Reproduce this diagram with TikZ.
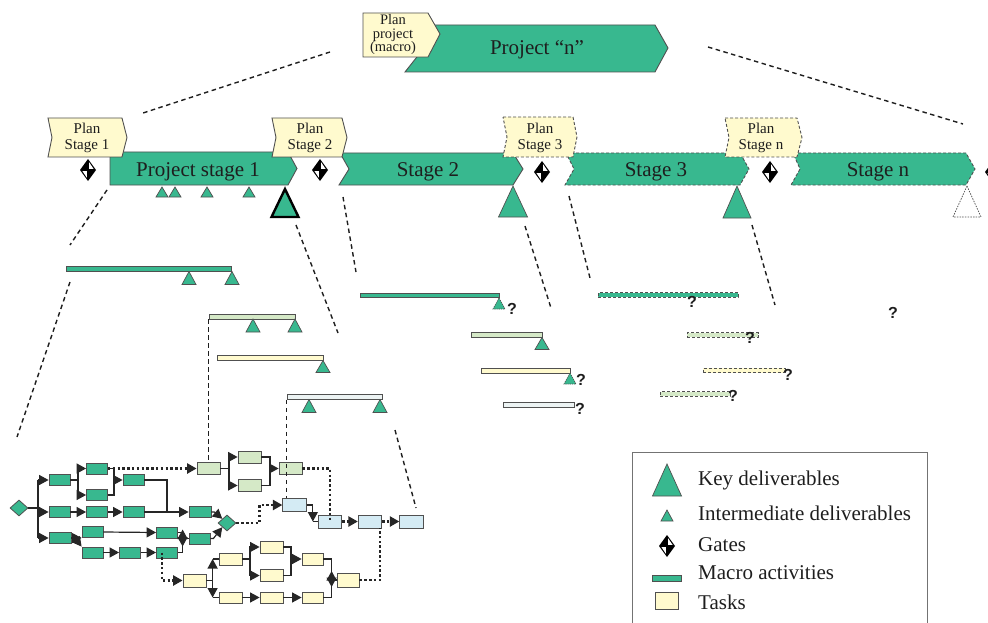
\documentclass[tikz,border=0pt]{standalone}
\usepackage{fontspec}
\setmainfont{Liberation Serif}
\setsansfont{Liberation Sans}
\usetikzlibrary{shapes.geometric,arrows.meta,calc}

\definecolor{pgreen}{RGB}{56,184,143}
\definecolor{pyellow}{RGB}{255,250,206}
\definecolor{plgreen}{RGB}{213,233,199}
\definecolor{plblue}{RGB}{212,235,244}
\definecolor{ppale}{RGB}{236,243,243}
\definecolor{pedge}{RGB}{80,80,80}
\definecolor{ptext}{RGB}{30,30,30}

% deliverable triangle: apex x, apex y, half base width, height
\newcommand{\deliv}[5][]{\filldraw[delivstyle,#1] (#2,#3) -- ++(#4,#5) -- ++({-2*(#4)},0) -- cycle;}

\tikzset{
  gatepic/.pic={
    \fill[black] (0,-11) -- (8,0) -- (0,11) -- (-8,0) -- cycle;
    \fill[white] (1.2,-7.6) -- (5.6,-1.1) -- (1.2,-1.1) -- cycle;
    \fill[white] (-1.2,7.6) -- (-5.6,1.1) -- (-1.2,1.1) -- cycle;
  },
}

\begin{document}
\begin{tikzpicture}[x=1pt,y=-1pt,
  stageshape/.style={fill=pgreen, draw=pedge, line width=0.9pt},
  planshape/.style={fill=pyellow, draw=pedge, line width=0.9pt},
  futuredash/.style={dash pattern=on 3pt off 2pt},
  stagetxt/.style={font=\fontsize{21}{24}\selectfont, text=ptext, inner sep=0, anchor=base},
  plantxt/.style={font=\fontsize{15}{16}\selectfont, text=ptext, align=center, inner sep=0},
  legtxt/.style={font=\fontsize{21}{24}\selectfont, text=ptext, inner sep=0, anchor=base west},
  qmark/.style={font=\sffamily\bfseries\fontsize{16}{16}\selectfont, text=ptext, inner sep=0},
  zoomline/.style={draw=ptext, line width=1.4pt, dash pattern=on 4.5pt off 3.5pt},
  delivstyle/.style={fill=pgreen, draw=pedge, line width=0.7pt},
  macrobar/.style={draw=pedge, line width=0.8pt, minimum height=5pt, inner sep=0},
  task/.style={draw=pedge, line width=0.8pt, minimum width=21pt, minimum height=11pt, inner sep=0},
  gtask/.style={task, fill=pgreen},
  lgtask/.style={task, fill=plgreen, minimum width=23pt, minimum height=12pt},
  lbtask/.style={task, fill=plblue, minimum width=23.5pt, minimum height=13pt},
  ytask/.style={task, fill=pyellow, minimum width=23pt, minimum height=12pt},
  gdia/.style={diamond, fill=pgreen, draw=pedge, line width=0.8pt, minimum width=18pt, minimum height=16pt, inner sep=0},
  flow/.style={draw=black!85, line width=1.2pt},
  arr/.style={flow, -{Triangle[length=9.5pt,width=10pt]}},
  dotl/.style={draw=black!85, line width=2.5pt, dash pattern=on 2.5pt off 2.3pt},
  darr/.style={dotl, -{Triangle[length=9.5pt,width=10pt]}},
]
\useasboundingbox (0,0) rectangle (988,623);
\clip (0,0) rectangle (988,623);

% ---------- project level ----------
\draw[stageshape] (405,25) -- (655,25) -- (668,48) -- (655,72) -- (405,72) -- (424,48) -- cycle;
\node[stagetxt] (projn) at (537,55) {Project “n”};
\draw[planshape] (363,13) -- (428,13) -- (440,34) -- (428,57) -- (363,57) -- cycle;
\node[plantxt, font=\fontsize{14.5}{13.5}\selectfont] (planproj) at (393,35) {Plan\\project\\(macro)};

% ---------- stages ----------
\draw[stageshape] (110,152) -- (288,152) -- (297,168.5) -- (288,185) -- (110,185) -- cycle;
\draw[stageshape] (340,153) -- (513,153) -- (523,169) -- (513,185) -- (339,185) -- (349,169) -- cycle;
\draw[stageshape, futuredash] (566,153) -- (740,153) -- (749,169) -- (740,185) -- (565,185) -- (574,169) -- cycle;
\draw[stageshape, futuredash] (793,153) -- (966,153) -- (975,169) -- (966,185) -- (791,185) -- (800,169) -- cycle;
\node[stagetxt] (st1) at (198,176) {Project stage 1};
\node[stagetxt] (st2) at (428,176) {Stage 2};
\node[stagetxt] (st3) at (656,176) {Stage 3};
\node[stagetxt] (stn) at (878,176) {Stage n};

% planning labels
\draw[planshape] (48,118) -- (122,118) -- (127,137.5) -- (122,157) -- (48,157) -- (52,137.5) -- cycle;
\draw[planshape] (272,118) -- (342,118) -- (347,137.5) -- (342,157) -- (272,157) -- (276,137.5) -- cycle;
\draw[planshape, futuredash] (503,117) -- (573,117) -- (577,137) -- (573,157) -- (503,157) -- (507,137) -- cycle;
\draw[planshape, futuredash] (725,118) -- (797,118) -- (802,137.5) -- (797,157) -- (725,157) -- (729,137.5) -- cycle;
\node[plantxt] (pl1) at (87,137.5) {Plan\\Stage 1};
\node[plantxt] (pl2) at (310,137.5) {Plan\\Stage 2};
\node[plantxt] (pl3) at (540,137.5) {Plan\\Stage 3};
\node[plantxt] (pln) at (761,137.5) {Plan\\Stage n};

% gates
\pic at (88,170) {gatepic};
\pic at (320,170) {gatepic};
\pic at (542,172) {gatepic};
\pic at (770,172) {gatepic};
\pic at (993,172) {gatepic};

% key deliverables of the stages
\deliv[draw=black, line width=2.4pt]{285}{189}{13.5}{28}
\deliv{513}{186}{14.5}{31}
\deliv{737}{186}{14}{32}
\deliv[fill=white, draw=pedge, dash pattern=on 1.5pt off 1.2pt]{967}{186}{14}{31}
% intermediate deliverables of stage 1
\deliv{162}{187}{6}{10}
\deliv{175}{187}{6}{10}
\deliv{207}{187}{6}{10}
\deliv{249}{187}{6}{10}

% ---------- zoom guide lines ----------
\coordinate (zt1) at (330,52);  \coordinate (zt2) at (140,114);
\coordinate (zt3) at (708,47);  \coordinate (zt4) at (963,124);
\draw[zoomline] (zt1) -- (zt2);
\draw[zoomline] (zt3) -- (zt4);
\coordinate (za1) at (107,190); \coordinate (za2) at (70,245);
\coordinate (za3) at (70,282);  \coordinate (za4) at (17,437);
\coordinate (za5) at (296,225); \coordinate (za6) at (338,333);
\coordinate (za7) at (395,430); \coordinate (za8) at (416,508);
\draw[zoomline] (za1) -- (za2);
\draw[zoomline] (za3) -- (za4);
\draw[zoomline] (za5) -- (za6);
\draw[zoomline] (za7) -- (za8);
\coordinate (zb1) at (343,197); \coordinate (zb2) at (356,272);
\coordinate (zb3) at (525,226); \coordinate (zb4) at (551,308);
\draw[zoomline] (zb1) -- (zb2);
\draw[zoomline] (zb3) -- (zb4);
\coordinate (zc1) at (569,196); \coordinate (zc2) at (590,278);
\coordinate (zc3) at (752,225); \coordinate (zc4) at (775,305);
\draw[zoomline] (zc1) -- (zc2);
\draw[zoomline] (zc3) -- (zc4);

% ---------- macro activities ----------
\node[macrobar, fill=pgreen, minimum width=165pt] (b11) at (148.5,269) {};
\node[macrobar, fill=plgreen, minimum width=86pt] (b12) at (252,316.5) {};
\node[macrobar, fill=pyellow, minimum width=106pt] (b13) at (270,358) {};
\node[macrobar, fill=ppale, minimum width=95pt] (b14) at (334.5,397) {};
\deliv{189}{271.5}{7}{13}
\deliv{232}{271.5}{7}{13}
\deliv{253}{319}{7}{13}
\deliv{295}{319}{7}{13}
\deliv{323}{360.5}{7}{12}
\deliv{309}{399.5}{7}{13}
\deliv{380}{399.5}{7}{13}

\node[macrobar, fill=pgreen, minimum width=139pt, minimum height=4.5pt] (b21) at (429.5,295.5) {};
\node[macrobar, fill=plgreen, minimum width=71pt] (b22) at (506.5,335) {};
\node[macrobar, fill=pyellow, minimum width=89pt] (b23) at (525.5,370.5) {};
\node[macrobar, fill=ppale, minimum width=71pt] (b24) at (538.5,405) {};
\deliv[dash pattern=on 1.2pt off 1pt]{499}{298}{6}{11}
\deliv{542}{337.5}{7}{12}
\deliv[dash pattern=on 1.2pt off 1pt]{570}{373}{6}{11}
\node[qmark] (q21) at (512,309) {?};
\node[qmark] (q23) at (581,380) {?};
\node[qmark] (q24) at (580,409) {?};

\node[macrobar, futuredash, fill=pgreen, minimum width=140pt, minimum height=4.5pt] (b31) at (668,295) {};
\node[macrobar, futuredash, fill=plgreen, minimum width=71pt, minimum height=4.5pt] (b32) at (722.5,335) {};
\node[macrobar, futuredash, fill=pyellow, minimum width=82pt, minimum height=4.5pt] (b33) at (744,370.5) {};
\node[macrobar, futuredash, fill=plgreen, minimum width=70pt, minimum height=4.5pt] (b34) at (695,394) {};
\node[qmark] (q31) at (692,302) {?};
\node[qmark] (q32) at (750,338) {?};
\node[qmark] (q33) at (788,375) {?};
\node[qmark] (q34) at (733,396) {?};
\node[qmark] (qn) at (893,313) {?};

% ---------- task network of stage 1 ----------
\node[gdia] (S) at (19,508) {};
\node[gtask] (A1) at (59.5,480) {};
\node[gtask] (A2) at (97,468.5) {};
\node[gtask] (A3) at (97,495) {};
\node[gtask] (A4) at (133.5,480) {};
\node[gtask] (B1) at (59.5,512) {};
\node[gtask] (B2) at (97,512) {};
\node[gtask] (B3) at (133.5,512) {};
\node[gtask, minimum width=22pt] (C1) at (200,512) {};
\node[gtask, minimum width=22pt] (R1) at (60,538) {};
\node[gtask] (R2) at (92.5,532) {};
\node[gtask] (R3) at (92.5,552.5) {};
\node[gtask] (R4) at (167,532.5) {};
\node[gtask] (R5) at (130,552.5) {};
\node[gtask] (R6) at (167,552.5) {};
\node[gtask] (R7) at (199.5,538.5) {};
\node[gdia] (M) at (227,523) {};

\node[lgtask] (LG1) at (208.5,468.5) {};
\node[lgtask] (LG2) at (249.5,457) {};
\node[lgtask] (LG3) at (249.5,485.5) {};
\node[lgtask] (LG4) at (290.5,468.5) {};

\node[lbtask] (LB1) at (294.5,505) {};
\node[lbtask] (LB2) at (330,521.5) {};
\node[lbtask] (LB3) at (370,521.5) {};
\node[lbtask] (LB4) at (411.5,521.5) {};

\node[ytask, minimum height=13pt] (Y1) at (194.5,580.5) {};
\node[ytask] (Y2) at (230.5,559) {};
\node[ytask, minimum height=11pt] (Y3) at (230.5,597.5) {};
\node[ytask] (Y4) at (271.5,547) {};
\node[ytask] (Y5) at (271.5,575.5) {};
\node[ytask, minimum width=21pt] (Y6) at (312.5,559) {};
\node[ytask, minimum height=11pt] (Y7) at (271.5,597.5) {};
\node[ytask, minimum width=21pt, minimum height=11pt] (Y8) at (312.5,597.5) {};
\node[ytask, minimum width=22pt, minimum height=14pt] (Y9) at (348,580) {};

% guide lines from the macro activities down to their tasks
\draw[zoomline] (b12.south west) -- (b12.south west |- LG1.north);
\draw[zoomline] (b14.south west) -- (b14.south west |- LB1.north);

% green network
\coordinate (sp) at (38,508);
\draw[flow] (S.east) -- (sp);
\draw[flow] (sp |- A1) -- (sp |- R1);
\draw[arr] (sp |- A1) -- (A1.west);
\draw[arr] (sp |- B1) -- (B1.west);
\draw[arr] (sp |- R1) -- (R1.west);
\coordinate (sa) at (78,480);
\draw[flow] (A1.east) -- (sa);
\draw[arr] (sa) |- (A2.west);
\draw[arr] (sa) |- (A3.west);
\coordinate (ma) at (114,480);
\draw[flow] (A2.east) -| (ma);
\draw[flow] (A3.east) -| (ma);
\draw[arr] (ma) -- (A4.west);
\draw[arr] (B1) -- (B2);
\draw[arr] (B2) -- (B3);
\coordinate (mb) at (167,512);
\draw[flow] (A4.east) -| (mb);
\draw[flow] (B3.east) -- (mb);
\draw[arr] (mb) -- (C1.west);
\coordinate (sr) at (75,538);
\draw[flow] (R1.east) -- (sr);
\draw[arr] (sr) -- (R2.south west);
\draw[arr] (sr) -- (R3.north west);
\draw[arr] (R2.east) -- (R4.west);
\draw[arr] (R3) -- (R5);
\draw[arr] (R5) -- (R6);
\draw[arr] (R4.east) -| ($(R7.west)+(-6,8)$);
\draw[arr] (R6.east) -| ($(R7.west)+(-6,-9)$);
\draw[flow] ($(R7.west)+(-6,0)$) -- (R7.west);
\draw[arr] (C1.east) -- ++(3,0) -- (M.north west);
\draw[arr] (R7.east) -- ++(3,0) -- (M.south west);

% light green network
\draw[darr] (A2.east) -- (LG1.west);
\coordinate (sg) at (229,468.5);
\draw[flow] (LG1.east) -- (sg);
\draw[arr] (sg) |- (LG2.west);
\draw[arr] (sg) |- (LG3.west);
\coordinate (mg) at (270,468.5);
\draw[flow] (LG2.east) -| (mg);
\draw[flow] (LG3.east) -| (mg);
\draw[arr] (mg) -- (LG4.west);

% light blue network
\draw[darr] (M.east) -- ++(23,0) |- (LB1.west);
\draw[arr] (LB1.east) -| ($(LB2.west)+(-5,0)$);
\draw[flow] ($(LB2.west)+(-5,0)$) -- (LB2.west);
\draw[dotl] (LG4.east) -| (LB2.center);
\draw[darr] (LB2.east) -- (LB3.west);
\draw[darr] (LB3.east) -- (LB4.west);

% yellow network
\draw[darr] ($(R6.center)+(-5,0)$) |- (Y1.west);
\draw[arr] (Y1.east) -| ($(Y2.west)+(-6,0)$);
\draw[flow] ($(Y2.west)+(-6,0)$) -- (Y2.west);
\draw[arr] (Y1.east) -| ($(Y3.west)+(-6,0)$);
\draw[flow] ($(Y3.west)+(-6,0)$) -- (Y3.west);
\coordinate (sy) at (250,559);
\draw[flow] (Y2.east) -- (sy);
\draw[arr] (sy) |- (Y4.west);
\draw[arr] (sy) |- (Y5.west);
\coordinate (my) at (291,559);
\draw[flow] (Y4.east) -| (my);
\draw[flow] (Y5.east) -| (my);
\draw[arr] (my) -- (Y6.west);
\draw[arr] (Y3) -- (Y7);
\draw[arr] (Y7) -- (Y8);
\draw[arr] (Y6.east) -| ($(Y9.west)+(-5,7)$);
\draw[arr] (Y8.east) -| ($(Y9.west)+(-5,-9)$);
\draw[flow] ($(Y9.west)+(-5,0)$) -- (Y9.west);
\draw[dotl] (Y9.east) -| ($(LB3.south east)+(-2,0)$);

% ---------- legend ----------
\draw[draw=pedge!80, line width=1pt] (632,452) rectangle (927,650);
\deliv{667}{464}{14.5}{32}
\node[legtxt] (lk) at (698,485) {Key deliverables};
\deliv{667}{510}{6}{11}
\node[legtxt] (li) at (698,520) {Intermediate deliverables};
\pic at (667,546) {gatepic};
\node[legtxt] (lg) at (698,551) {Gates};
\node[macrobar, fill=pgreen, minimum width=29pt, minimum height=6pt] (lm) at (666.5,578) {};
\node[legtxt] (lmt) at (698,579) {Macro activities};
\node[task, fill=pyellow, minimum width=23pt, minimum height=17pt] (lt) at (666.5,600.5) {};
\node[legtxt] (ltt) at (698,609) {Tasks};
\end{tikzpicture}
\end{document}
